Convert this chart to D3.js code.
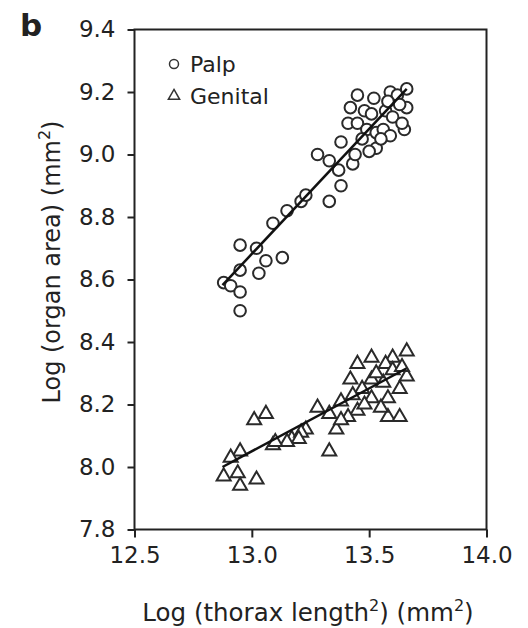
<!DOCTYPE html>
<html><head><meta charset="utf-8">
<script src="https://cdn.jsdelivr.net/npm/d3@7"></script>
<style>
body{margin:0;background:#fff;}
text{font-family:"DejaVu Sans",Verdana,sans-serif;fill:#222;}
</style></head>
<body><svg id="c" width="528" height="628"></svg>
<script>
// Data
const palpX = [12.88,12.91,12.95,12.95,12.95,12.95,13.02,13.03,13.06,13.09,13.13,13.15,13.21,13.23,13.33,13.28,13.33,13.38,13.37,13.38,13.43,
  13.45,13.42,13.52,13.41,13.45,13.48,13.51,13.49,13.47,13.53,13.56,13.57,13.59,13.62,13.66,13.66,13.65,13.59,13.53,13.55,13.60,13.63,13.44,13.50,13.58,13.64];
const palpY = [8.59,8.58,8.71,8.63,8.56,8.50,8.70,8.62,8.66,8.78,8.67,8.82,8.85,8.87,8.85,9.00,8.98,9.04,8.95,8.90,8.97,
  9.19,9.15,9.18,9.10,9.10,9.14,9.13,9.08,9.05,9.07,9.08,9.14,9.20,9.19,9.21,9.15,9.08,9.06,9.02,9.05,9.12,9.16,9.00,9.01,9.17,9.10];
const genX = [13.66,13.51,13.60,13.45,13.57,13.42,13.51,13.60,13.66,13.47,13.56,13.63,13.43,13.51,13.58,13.38,13.28,13.45,13.33,13.41,13.58,13.63,
  13.01,13.06,13.36,13.23,13.17,13.21,13.20,13.15,13.09,13.33,12.95,12.91,12.88,12.94,12.95,13.02,13.53,13.48,13.38,13.55,13.64,13.10];
const genY = [8.37,8.35,8.35,8.33,8.33,8.28,8.28,8.31,8.29,8.25,8.27,8.25,8.23,8.22,8.22,8.21,8.19,8.18,8.17,8.16,8.16,8.16,
  8.15,8.17,8.12,8.12,8.09,8.11,8.09,8.08,8.07,8.05,8.05,8.03,7.97,7.98,7.94,7.96,8.30,8.20,8.15,8.19,8.32,8.08];
const fitX = [12.875, 13.66];
const palpFitY = [8.582, 9.21];
const genFitY = [8.0, 8.316];
const xTicks = [12.5, 13.0, 13.5, 14.0];
const yTicks = [7.8, 8.0, 8.2, 8.4, 8.6, 8.8, 9.0, 9.2, 9.4];
const seriesNames = ["Palp", "Genital"];

const svg = d3.select("#c");
const L = 134.5, R = 486.5, T = 29.5, B = 529.5;
const x = d3.scaleLinear().domain([12.5, 14.0]).range([L, R]);
const y = d3.scaleLinear().domain([7.8, 9.4]).range([B, T]);

const ink = "#222";
svg.append("rect").attr("x", L).attr("y", T).attr("width", R - L).attr("height", B - T)
  .attr("fill", "none").attr("stroke", ink).attr("stroke-width", 2);

const xAxis = svg.append("g").attr("transform", `translate(0,${B})`)
  .call(d3.axisBottom(x).tickValues(xTicks).tickFormat(d3.format(".1f")).tickSize(8).tickPadding(9));
const yAxis = svg.append("g").attr("transform", `translate(${L},0)`)
  .call(d3.axisLeft(y).tickValues(yTicks).tickFormat(d3.format(".1f")).tickSize(7).tickPadding(12));
[xAxis, yAxis].forEach(g => {
  g.select(".domain").remove();
  g.selectAll("line").attr("stroke", ink).attr("stroke-width", 2);
  g.selectAll("text").attr("font-size", 23).attr("font-family", '"DejaVu Sans",Verdana,sans-serif').attr("fill", ink);
});

const pts = svg.append("g");
pts.selectAll("circle.p").data(d3.zip(palpX, palpY)).join("circle")
  .attr("cx", d => x(d[0])).attr("cy", d => y(d[1])).attr("r", 5.8)
  .attr("fill", "#fff").attr("stroke", "#2a2a2a").attr("stroke-width", 2);
const tri = d3.symbol().type(d3.symbolTriangle).size(85);
pts.selectAll("path.g").data(d3.zip(genX, genY)).join("path")
  .attr("transform", d => `translate(${x(d[0])},${y(d[1])})`).attr("d", tri)
  .attr("fill", "#fff").attr("stroke", "#2a2a2a").attr("stroke-width", 2);

const line = d3.line().x(d => x(d[0])).y(d => y(d[1]));
svg.append("path").datum(d3.zip(fitX, palpFitY)).attr("d", line).attr("stroke", "#111").attr("stroke-width", 2.5).attr("fill", "none");
svg.append("path").datum(d3.zip(fitX, genFitY)).attr("d", line).attr("stroke", "#111").attr("stroke-width", 2.5).attr("fill", "none");

const lg = svg.append("g");
lg.append("circle").attr("cx", 174).attr("cy", 64).attr("r", 4.5).attr("fill", "#fff").attr("stroke", "#333").attr("stroke-width", 1.5);
lg.append("path").attr("transform", "translate(174,96)").attr("d", d3.symbol().type(d3.symbolTriangle).size(55))
  .attr("fill", "#fff").attr("stroke", "#333").attr("stroke-width", 1.5);
lg.append("text").attr("x", 190).attr("y", 72).attr("font-size", 22).text(seriesNames[0]);
lg.append("text").attr("x", 190).attr("y", 104).attr("font-size", 22).text(seriesNames[1]);

svg.append("text").attr("x", 20).attr("y", 36).attr("font-size", 31).attr("font-weight", "bold").attr("fill", "#111").text("b");

const xt = svg.append("text").attr("x", 308).attr("y", 621).attr("text-anchor", "middle").attr("font-size", 24.5);
xt.append("tspan").text("Log (thorax length");
xt.append("tspan").attr("dy", -10).attr("font-size", 16).text("2");
xt.append("tspan").attr("dy", 10).text(") (mm");
xt.append("tspan").attr("dy", -10).attr("font-size", 16).text("2");
xt.append("tspan").attr("dy", 10).text(")");

const yt = svg.append("text").attr("transform", "translate(60,262) rotate(-90)").attr("text-anchor", "middle").attr("font-size", 24);
yt.append("tspan").text("Log (organ area) (mm");
yt.append("tspan").attr("dy", -10).attr("font-size", 16).text("2");
yt.append("tspan").attr("dy", 10).text(")");
</script></body></html>
